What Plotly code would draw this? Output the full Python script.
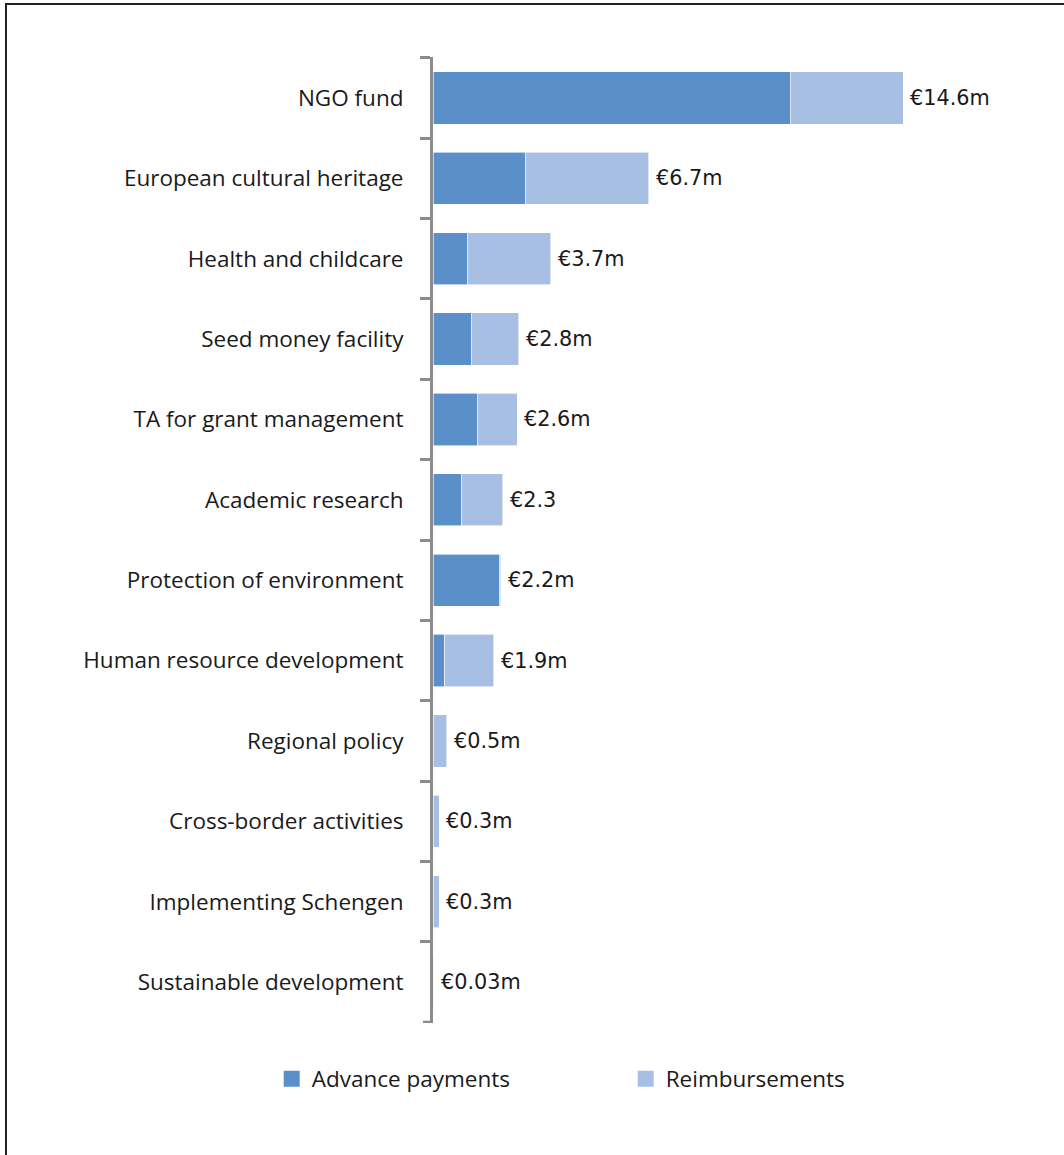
import plotly.graph_objects as go

categories = [
    "NGO fund", "European cultural heritage", "Health and childcare",
    "Seed money facility", "TA for grant management", "Academic research",
    "Protection of environment", "Human resource development", "Regional policy",
    "Cross-border activities", "Implementing Schengen", "Sustainable development",
]
advance_payments = [11.1, 2.86, 1.06, 1.18, 1.37, 0.87, 2.05, 0.37, 0.0, 0.0, 0.0, 0.0]
reimbursements = [3.5, 3.84, 2.6, 1.49, 1.24, 1.3, 0.06, 1.52, 0.43, 0.19, 0.19, 0.03]
value_labels = ["€14.6m", "€6.7m", "€3.7m", "€2.8m", "€2.6m", "€2.3",
                "€2.2m", "€1.9m", "€0.5m", "€0.3m", "€0.3m", "€0.03m"]

C_ADV = "#5B8FC9"
C_REI = "#A7BFE3"
GRAY = "#8C8C8C"

fig = go.Figure()
fig.add_trace(go.Bar(y=categories, x=advance_payments, orientation="h", name="Advance payments",
                     marker=dict(color=C_ADV, line=dict(color="white", width=0.6)), showlegend=False))
fig.add_trace(go.Bar(y=categories, x=reimbursements, orientation="h", name="Reimbursements",
                     marker=dict(color=C_REI, line=dict(color="white", width=0.6)), showlegend=False))
# legend entries
fig.add_trace(go.Scatter(x=[None], y=[None], mode="markers", name="Advance payments",
                         marker=dict(symbol="square", size=16, color=C_ADV)))
fig.add_trace(go.Scatter(x=[None], y=[None], mode="markers", name="Reimbursements",
                         marker=dict(symbol="square", size=16, color=C_REI)))

for cat, a, r, lab in zip(categories, advance_payments, reimbursements, value_labels):
    fig.add_annotation(x=a + r, y=cat, text=lab, showarrow=False, xanchor="left",
                       xshift=5, font=dict(family="DejaVu Sans", size=20.8, color="#1a1a1a"))

# outer frame (top and left visible)
fig.add_shape(type="rect", xref="paper", yref="paper", x0=-0.7478, x1=2, y0=-1, y1=1.0549,
              line=dict(color="#222222", width=2), fillcolor="rgba(0,0,0,0)", layer="below")
# closing tick at the bottom end of the category axis
fig.add_shape(type="line", xref="paper", yref="y", x0=-0.0175, x1=0, y0=len(categories) - 0.5,
              y1=len(categories) - 0.5, line=dict(color=GRAY, width=3))

fig.update_layout(
    width=1064, height=1155,
    margin=dict(l=433, r=60, t=57, b=132),
    barmode="stack", bargap=0.35,
    paper_bgcolor="white", plot_bgcolor="white",
    font=dict(family="Open Sans", size=22.5, color="#1a1a1a"),
    legend=dict(orientation="h", x=-0.2825, xanchor="left", y=-0.058, yanchor="middle",
                entrywidth=309, entrywidthmode="pixels", traceorder="normal",
                font=dict(family="Open Sans", size=22.5), itemsizing="trace"),
    xaxis=dict(range=[0, 17.73], visible=False, fixedrange=True),
    yaxis=dict(range=[11.51, -0.51], type="category", tickson="boundaries", ticks="outside",
               ticklen=10, tickwidth=3, tickcolor=GRAY, showline=True, linewidth=3,
               linecolor=GRAY, showgrid=False, ticklabelstandoff=22,
               tickfont=dict(family="Open Sans", size=22.5, color="#1a1a1a")),
)

fig.write_html("out.html")
